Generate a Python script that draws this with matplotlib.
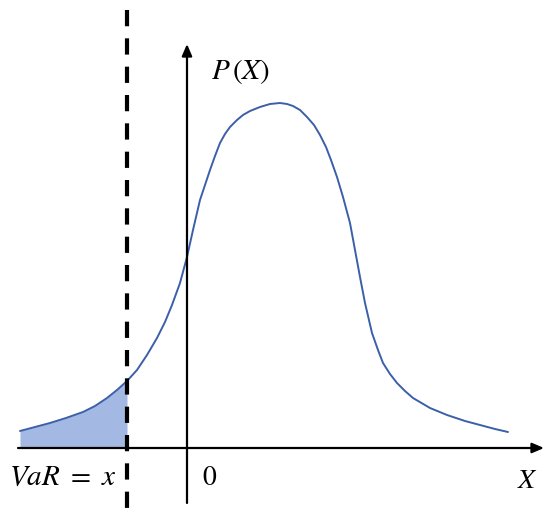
import numpy as np
import matplotlib.pyplot as plt

plt.rcParams['mathtext.fontset'] = 'stix'

# curve (x relative to the vertical axis, y above the horizontal axis)
x_vals = np.array([-167, -152, -137, -121, -104, -92, -80, -70, -60, -50, -40, -30, -22,
                   -15, -7, 0, 6, 13, 18, 23, 28, 33, 38, 43, 50, 56, 63, 73, 83,
                   93, 100, 106, 113, 120, 127, 133, 139, 144, 150, 156, 163, 168,
                   173, 178, 185, 191, 196, 203, 210, 218, 226, 243, 260, 278, 293,
                   308, 321])
p_vals = np.array([17, 21, 25, 30, 36, 42, 50, 58, 67, 78, 93, 110, 126,
                   143, 165, 191, 218, 248, 263, 278, 292, 305, 314, 321, 328, 333, 337, 341, 344,
                   345, 344, 342, 338, 331, 323, 313, 301, 288, 271, 251, 225, 198,
                   171, 145, 115, 98, 85, 74, 65, 57, 50, 40, 33, 27, 23,
                   19, 16])
var_x = -60

line_col = '#3b5fa9'
fill_col = '#a3b8e2'

fig = plt.figure(figsize=(5.5, 5.29), dpi=100)
ax = fig.add_axes([0, 0, 1, 1])
ax.set_xlim(-187, 363)
ax.set_ylim(-81, 448)
ax.axis('off')

# shaded tail left of VaR
tail = x_vals <= var_x
ax.fill_between(x_vals[tail], 0, p_vals[tail], color=fill_col, lw=0, zorder=1)

ax.plot(x_vals, p_vals, color=line_col, lw=1.4, zorder=2,
        solid_joinstyle='round', solid_capstyle='round')

# axes with arrows
arrow = dict(arrowstyle='-|>,head_length=0.7,head_width=0.3', color='black', lw=1.6,
             shrinkA=0, shrinkB=0)
ax.annotate('', xy=(357, 0), xytext=(-169, 0), arrowprops=arrow, zorder=3)
ax.annotate('', xy=(0, 404), xytext=(0, -55), arrowprops=arrow, zorder=3)

# VaR dashed line
ax.plot([var_x, var_x], [438, -72], color='black', lw=3, ls=(0, (3.9, 2.9)), zorder=4)

ax.text(24, 376, r'$P\,(X)$', fontsize=21, va='center', ha='left')
ax.text(-178, -29, r'$VaR\ =\ x$', fontsize=21, va='center', ha='left')
ax.text(15, -29, r'$0$', fontsize=20, va='center', ha='left')
ax.text(330, -32, r'$X$', fontsize=20, va='center', ha='left')

fig.savefig('out.png', dpi=100)
